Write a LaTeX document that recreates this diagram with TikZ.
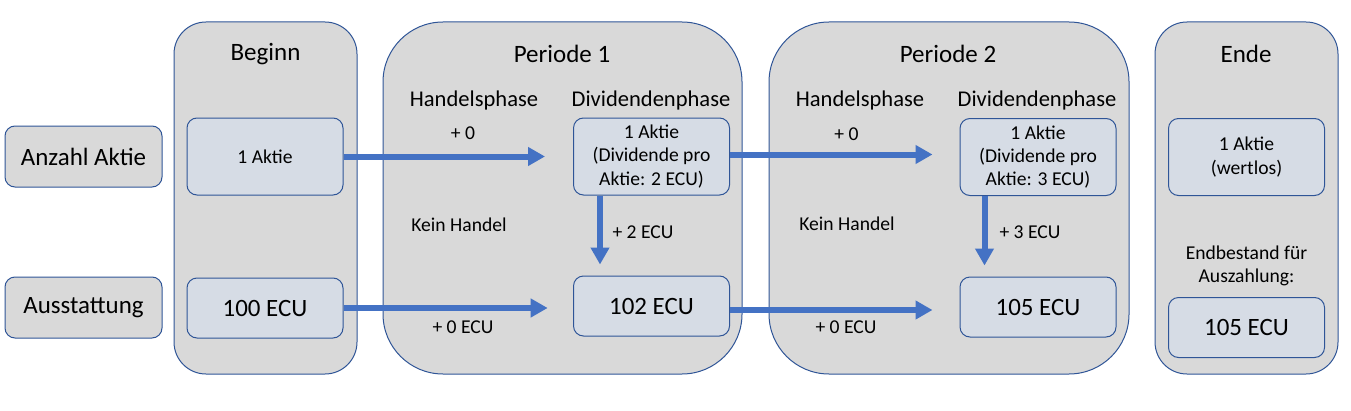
\documentclass[tikz,border=0pt]{standalone}
\usepackage{fontspec}
\setmainfont{Carlito}
\usepackage{tikz}
\usetikzlibrary{arrows.meta}

\definecolor{colfill}{RGB}{217,217,217}
\definecolor{boxfill}{RGB}{214,220,229}
\definecolor{edgeblue}{RGB}{47,85,151}
\definecolor{arrowblue}{RGB}{68,114,196}

\newcommand{\titlefont}{\fontsize{18.75pt}{22pt}\selectfont}
\newcommand{\phasefont}{\fontsize{16.9pt}{20pt}\selectfont}
\newcommand{\labelfont}{\fontsize{14.7pt}{17.5pt}\selectfont}
\newcommand{\valuefont}{\fontsize{18.7pt}{22pt}\selectfont}

\tikzset{
  colbox/.style={draw=edgeblue, fill=colfill, line width=0.75pt},
  rowbox/.style={draw=edgeblue, fill=colfill, line width=0.75pt, rounded corners=7.5pt,
    minimum width=117.75pt, minimum height=45.75pt, inner sep=0pt, font=\valuefont},
  aktiebox/.style={draw=edgeblue, fill=boxfill, line width=0.75pt, rounded corners=7.5pt,
    minimum width=117pt, minimum height=57.75pt, inner sep=0pt, align=center, font=\labelfont},
  ecubox/.style={draw=edgeblue, fill=boxfill, line width=0.75pt, rounded corners=7.5pt,
    minimum width=117pt, minimum height=45pt, inner sep=0pt, font=\valuefont},
  flow/.style={draw=arrowblue, line width=4.5pt, -{Triangle[width=13.5pt,length=12.75pt]}},
}

\begin{document}
\begin{tikzpicture}[x=0.75pt,y=0.75pt,yscale=-1,xscale=1]
  \useasboundingbox (0,0) rectangle (1351,410);

  %Columns
  \draw [colbox, rounded corners=24pt] (174,22) rectangle (357,374);
  \draw [colbox, rounded corners=45pt] (383,22) rectangle (742,374);
  \draw [colbox, rounded corners=45pt] (769,22) rectangle (1129,374);
  \draw [colbox, rounded corners=24pt] (1155,22) rectangle (1338,374);

  %Row labels
  \node [rowbox] (anzahl) at (83.5,156.5) {Anzahl Aktie};
  \node [rowbox] (ausstattung) at (83.5,307.5) {Ausstattung};

  % Titles
  \node [font=\titlefont] (tbeginn) at (265.5,54) {Beginn};
  \node [font=\titlefont] (tper1) at (562,54) {Periode 1};
  \node [font=\titlefont] (tper2) at (948,54) {Periode 2};
  \node [font=\titlefont] (tende) at (1246,54) {Ende};

  % Phase headers
  \node [font=\phasefont] (hp1) at (474,100) {Handelsphase};
  \node [font=\phasefont] (dp1) at (651,100) {Dividendenphase};
  \node [font=\phasefont] (hp2) at (860,100) {Handelsphase};
  \node [font=\phasefont] (dp2) at (1037,100) {Dividendenphase};

  % Value boxes
  \node [aktiebox] (beg1) at (265,156.5) {1 Aktie};
  \node [ecubox] (beg2) at (265,308) {100 ECU};
  \node [aktiebox] (div1) at (651.5,156.5) {1 Aktie\\(Dividende pro\\Aktie: 2 ECU)};
  \node [ecubox] (ecu1) at (651.5,306) {102 ECU};
  \node [aktiebox] (div2) at (1038,157) {1 Aktie\\(Dividende pro\\Aktie: 3 ECU)};
  \node [ecubox] (ecu2) at (1038,307) {105 ECU};
  \node [aktiebox] (end1) at (1246.5,157) {1 Aktie\\(wertlos)};
  \node [ecubox] (end2) at (1246.5,327.5) {105 ECU};
  \node [font=\labelfont, align=center] (endtext) at (1246.5,266) {Endbestand für\\Auszahlung:};

  % Arrows
  \draw [flow, shorten >=21pt] (beg1.east) -- (beg1.east -| div1.west);
  \draw [flow, shorten >=19pt] (beg2.east) -- (beg2.east -| ecu1.west);
  \draw [flow, shorten >=8.25pt] ([xshift=20.25pt]div1.south west) -- ([xshift=20.25pt]ecu1.north west);
  \draw [flow, shorten >=20.25pt] ([yshift=-1.5pt]div1.east) -- ([yshift=-1.5pt]div1.east -| div2.west);
  \draw [flow, shorten >=20.25pt] ([yshift=3pt]ecu1.east) -- ([yshift=3pt]ecu1.east -| ecu2.west);
  \draw [flow, shorten >=8.25pt] ([xshift=18.75pt]div2.south west) -- ([xshift=18.75pt]ecu2.north west);

  % Arrow labels
  \node [font=\labelfont] (l1) at (463,133) {+ 0};
  \node [font=\labelfont] (l2) at (459,225) {Kein Handel};
  \node [font=\labelfont] (l3) at (463,327) {+ 0 ECU};
  \node [font=\labelfont] (l4) at (643,232) {+ 2 ECU};
  \node [font=\labelfont] (l5) at (846.5,134) {+ 0};
  \node [font=\labelfont] (l6) at (847,224) {Kein Handel};
  \node [font=\labelfont] (l7) at (846,327) {+ 0 ECU};
  \node [font=\labelfont] (l8) at (1030,232) {+ 3 ECU};
\end{tikzpicture}
\end{document}
